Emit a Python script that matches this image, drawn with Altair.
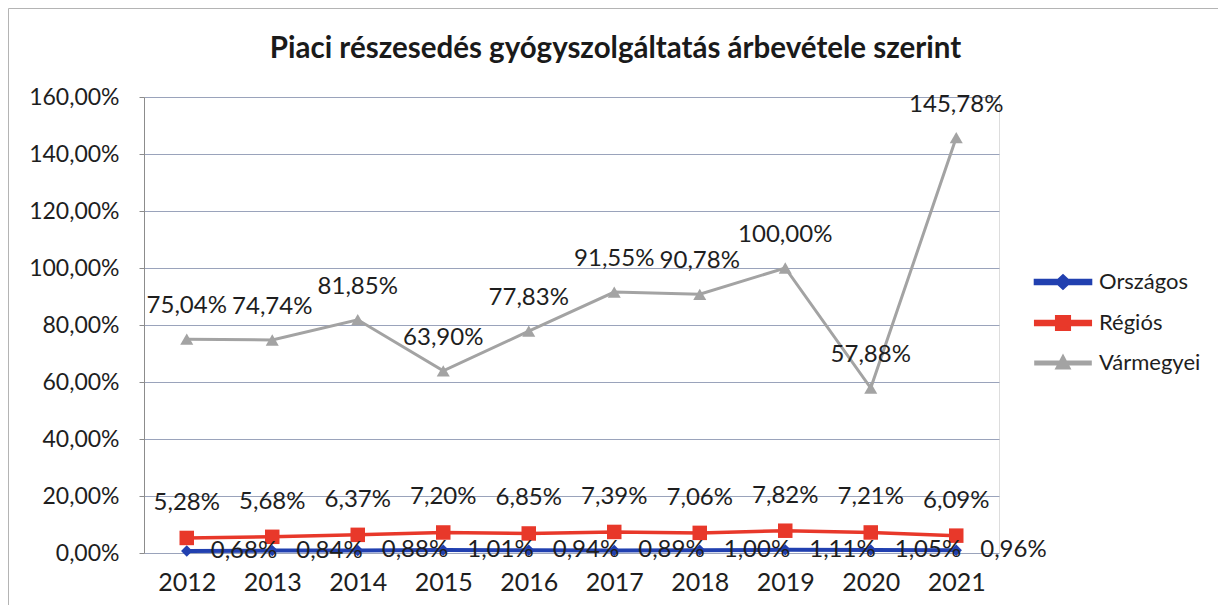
import altair as alt
import pandas as pd

years = ["2012", "2013", "2014", "2015", "2016", "2017", "2018", "2019", "2020", "2021"]
orszagos = [0.68, 0.84, 0.88, 1.01, 0.94, 0.89, 1.00, 1.11, 1.05, 0.96]
regios = [5.28, 5.68, 6.37, 7.20, 6.85, 7.39, 7.06, 7.82, 7.21, 6.09]
varmegyei = [75.04, 74.74, 81.85, 63.90, 77.83, 91.55, 90.78, 100.00, 57.88, 145.78]
series_names = ["Országos", "Régiós", "Vármegyei"]
series_colors = ["#2140b0", "#e8382a", "#a3a3a3"]
series_shapes = ["diamond", "square", "triangle-up"]
series_sizes = [130, 210, 170]
series_widths = [4, 3, 2.5]
y_ticks = [0, 20, 40, 60, 80, 100, 120, 140, 160]
title_text = "Piaci részesedés gyógyszolgáltatás árbevétele szerint"

rows = []
for name, vals in zip(series_names, [orszagos, regios, varmegyei]):
    for y, v in zip(years, vals):
        rows.append({"year": y, "series": name, "value": v,
                     "label": f"{v:.2f}".replace(".", ",") + "%"})
df = pd.DataFrame(rows)

FONT = "Lato"
W, H = 855, 456

x_enc = alt.X("year:O", scale=alt.Scale(type="point", padding=0.5, domain=years),
              axis=alt.Axis(title=None, labelFont=FONT, labelFontSize=25, labelColor="#1e1e1e",
                            labelAngle=0, domain=False, ticks=False, labelPadding=17))
y_enc = alt.Y("value:Q", scale=alt.Scale(domain=[0, 160], nice=False),
              axis=alt.Axis(title=None, values=y_ticks, labelFont=FONT, labelFontSize=23,
                            labelColor="#1e1e1e", tickSize=5, tickColor="#8c8c8c",
                            labelPadding=20, domainColor="#8c8c8c", gridColor="#9aa3bb",
                            gridWidth=1,
                            labelExpr="replace(format(datum.value, '.2f'), '.', ',') + '%'"))

color_scale = alt.Scale(domain=series_names, range=series_colors)

# legend symbols: a thin bar (the line) plus the marker, as filled paths
legend_paths = [
    "M-3.9,-0.18L3.9,-0.18L3.9,0.18L-3.9,0.18ZM0,-0.8L0.85,0L0,0.8L-0.85,0Z",
    "M-3.9,-0.2L3.9,-0.2L3.9,0.2L-3.9,0.2ZM-0.9,-0.9L0.9,-0.9L0.9,0.9L-0.9,0.9Z",
    "M-3.9,-0.16L3.9,-0.16L3.9,0.16L-3.9,0.16ZM0,-0.9L0.85,0.7L-0.85,0.7Z",
]
legend = alt.Legend(orient="none", legendX=908, legendY=174, title=None,
                    labelFont=FONT, labelFontSize=22, labelColor="#1e1e1e",
                    symbolSize=196, symbolStrokeWidth=0, labelOffset=25,
                    rowPadding=13, padding=0, symbolOpacity=1)

base = alt.Chart(df)

border = alt.Chart(pd.DataFrame({"k": [0]})).mark_rect(
    fill="transparent", stroke="#b4b4b4", strokeWidth=1
).encode(x=alt.value(-135.5), x2=alt.value(1200), y=alt.value(-88.5), y2=alt.value(700))

legend_layer = base.transform_filter("false").mark_point(filled=True, opacity=1).encode(
    x=x_enc, y=y_enc,
    color=alt.Color("series:N", scale=color_scale, legend=legend),
    shape=alt.Shape("series:N", scale=alt.Scale(domain=series_names, range=legend_paths), legend=legend),
)

lines = base.mark_line().encode(
    x=x_enc, y=y_enc,
    color=alt.Color("series:N", scale=color_scale, legend=None),
    strokeWidth=alt.StrokeWidth("series:N", scale=alt.Scale(domain=series_names, range=series_widths), legend=None),
)

point_layers = []
for name, shp, sz in zip(series_names, series_shapes, series_sizes):
    point_layers.append(
        base.transform_filter(alt.datum.series == name).mark_point(filled=True, opacity=1, shape=shp, size=sz).encode(
            x=x_enc, y=y_enc, color=alt.Color("series:N", scale=color_scale, legend=None)
        )
    )

lbl_top = base.transform_filter("datum.series === 'Vármegyei'").mark_text(
    font=FONT, fontSize=24, color="#1e1e1e", dy=-33, baseline="middle", align="center"
).encode(x=x_enc, y=y_enc, text="label:N")
lbl_mid = base.transform_filter("datum.series === 'Régiós'").mark_text(
    font=FONT, fontSize=24, color="#1e1e1e", dy=-35, baseline="middle", align="center"
).encode(x=x_enc, y=y_enc, text="label:N")
lbl_low = base.transform_filter("datum.series === 'Országos'").mark_text(
    font=FONT, fontSize=24, color="#1e1e1e", dx=24, dy=0, baseline="middle", align="left"
).encode(x=x_enc, y=y_enc, text="label:N")

chart = alt.layer(border, legend_layer, lines, *point_layers, lbl_low, lbl_mid, lbl_top).properties(
    width=W, height=H,
    title=alt.TitleParams(title_text, font=FONT, fontSize=29.5, fontWeight="bold", color="#1a1a1a",
                          anchor="middle", frame="group", dx=44, offset=-56),
    autosize=alt.AutoSizeParams(type="none"),
    padding={"left": 136, "top": 89, "right": 219, "bottom": 52},
).configure_view(stroke=None).configure(background="white")

chart.save("out.html", embed_options={"renderer": "svg", "actions": False})
